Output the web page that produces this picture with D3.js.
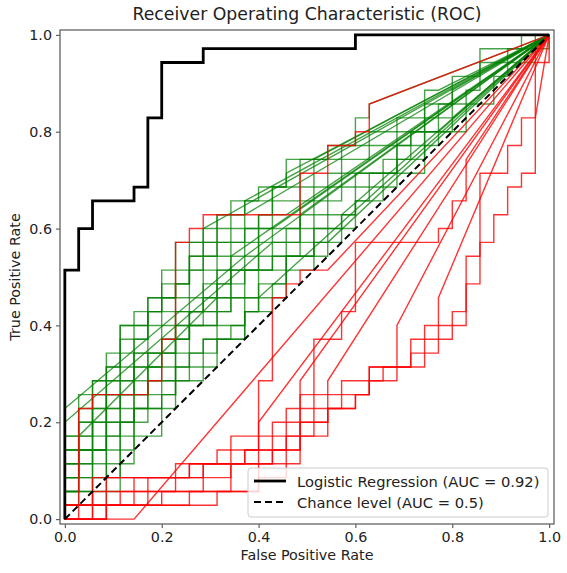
<!DOCTYPE html>
<html>
<head>
<meta charset="utf-8">
<script src="https://cdn.jsdelivr.net/npm/d3@7"></script>
<style>
  body { margin: 0; background: #fff; }
  text { font-family: "DejaVu Sans", sans-serif; fill: #222; }
</style>
</head>
<body>
<svg id="roc" width="567" height="573"></svg>
<script>
// every curve is written in steps of 1/35 (35 positives, 35 negatives)
const N = 35;
const ticks = [0, 0.2, 0.4, 0.6, 0.8, 1.0];

// logistic regression ROC (fpr count, tpr count)
const logReg = [[0,0],[0,18],[1,18],[1,21],[2,21],[2,23],[5,23],[5,24],[6,24],[6,29],[7,29],[7,33],[10,33],[10,34],[21,34],[21,35],[35,35]];
const chance = [[0,0],[35,35]];

// green runs (above chance)
const green01 = [[0,0],[0,8],[13,19],[13,21],[14,21],[14,22],[16,22],[35,35]];
const green02 = [[0,0],[0,7],[15,20],[15,21],[35,35]];
const green03 = [[0,0],[0,2],[1,2],[1,8],[2,8],[2,10],[3,10],[3,12],[4,12],[4,13],[6,13],[6,15],[7,15],[7,17],[9,17],[9,19],[10,19],[10,20],[12,20],[12,22],[13,22],[35,35]];
const green04 = [[0,0],[0,5],[1,5],[1,6],[2,6],[2,7],[3,7],[3,9],[5,9],[5,11],[6,11],[6,12],[8,12],[8,14],[9,14],[9,16],[11,16],[11,17],[12,17],[12,18],[14,18],[14,20],[17,20],[17,22],[35,35]];
const green05 = [[0,0],[0,4],[2,4],[2,5],[3,5],[3,6],[4,6],[4,9],[6,9],[6,10],[7,10],[7,13],[8,13],[8,15],[10,15],[10,16],[11,16],[11,19],[12,19],[35,35]];
const green06 = [[0,0],[0,3],[3,3],[3,4],[4,4],[4,7],[5,7],[5,8],[7,8],[7,9],[8,9],[8,11],[10,11],[10,12],[11,12],[11,14],[13,14],[13,16],[14,16],[14,17],[16,17],[16,19],[18,19],[18,20],[20,20],[20,22],[21,22],[21,23],[23,23],[23,25],[24,25],[24,26],[26,26],[26,28],[28,28],[28,29],[35,35]];
const green07 = [[0,0],[0,1],[2,1],[2,3],[3,3],[3,5],[4,5],[4,6],[5,6],[5,8],[6,8],[6,9],[8,9],[8,11],[9,11],[9,12],[10,12],[10,13],[13,13],[13,15],[14,15],[14,16],[15,16],[15,17],[16,17],[16,19],[18,19],[18,21],[19,21],[19,22],[21,22],[21,24],[22,24],[22,25],[24,25],[24,27],[26,27],[26,29],[27,29],[27,30],[29,30],[29,31],[30,31],[30,33],[32,33],[32,34],[34,34],[34,35],[35,35]];
const green08 = [[0,0],[0,6],[1,6],[1,9],[3,9],[3,11],[4,11],[4,14],[5,14],[5,15],[7,15],[7,16],[8,16],[8,18],[10,18],[10,21],[11,21],[11,22],[13,22],[13,23],[35,35]];
const green09 = [[0,0],[0,2],[1,2],[1,4],[2,4],[2,6],[3,6],[3,8],[4,8],[4,10],[5,10],[5,12],[6,12],[6,14],[7,14],[7,16],[9,16],[9,18],[10,18],[10,19],[11,19],[11,20],[14,20],[14,21],[17,21],[17,23],[18,23],[18,26],[19,26],[19,27],[21,27],[21,29],[22,29],[22,30],[35,35]];
const green10 = [[0,0],[0,4],[1,4],[1,7],[2,7],[2,9],[4,9],[4,12],[5,12],[5,13],[6,13],[6,16],[8,16],[8,17],[9,17],[9,20],[11,20],[11,22],[12,22],[12,23],[14,23],[14,24],[16,24],[16,26],[18,26],[35,35]];
const green11 = [[0,0],[0,1],[1,1],[1,2],[3,2],[3,3],[4,3],[4,5],[5,5],[5,7],[6,7],[6,8],[7,8],[7,10],[9,10],[9,12],[10,12],[10,13],[12,13],[12,14],[13,14],[13,15],[15,15],[15,16],[16,16],[16,18],[18,18],[18,19],[19,19],[19,20],[35,35]];
const green12 = [[0,0],[0,3],[1,3],[1,5],[2,5],[2,8],[3,8],[3,10],[5,10],[5,11],[7,11],[7,12],[8,12],[8,14],[10,14],[10,15],[12,15],[12,17],[13,17],[13,18],[15,18],[15,19],[17,19],[17,20],[19,20],[19,21],[21,21],[21,23],[22,23],[22,24],[24,24],[24,25],[26,25],[26,27],[27,27],[27,28],[29,28],[29,30],[31,30],[31,32],[32,32],[32,33],[34,33],[34,34],[35,34],[35,35]];
const green13 = [[0,0],[0,5],[2,5],[2,7],[3,7],[3,11],[4,11],[4,14],[6,14],[6,16],[7,16],[7,18],[8,18],[8,20],[10,20],[10,21],[35,35]];
const green14 = [[0,0],[0,3],[2,3],[2,4],[3,4],[3,6],[4,6],[4,8],[6,8],[6,11],[7,11],[7,13],[9,13],[9,15],[10,15],[10,17],[12,17],[12,19],[14,19],[14,22],[15,22],[15,23],[17,23],[17,24],[19,24],[19,25],[20,25],[20,26],[22,26],[22,27],[24,27],[24,28],[26,28],[26,30],[28,30],[28,31],[35,35]];
const green15 = [[0,0],[0,1],[3,1],[3,2],[4,2],[4,4],[5,4],[5,6],[7,6],[7,8],[8,8],[8,10],[10,10],[10,11],[11,11],[11,13],[13,13],[13,15],[14,15],[14,16],[35,35]];
const green16 = [[0,0],[0,2],[1,2],[1,6],[11,16],[11,18],[13,18],[13,19],[35,35]];
const green17 = [[0,0],[0,4],[1,4],[1,5],[3,5],[3,7],[5,7],[5,9],[6,9],[6,10],[8,10],[8,13],[9,13],[9,14],[11,14],[11,16],[12,16],[12,18],[15,18],[15,20],[17,20],[17,21],[18,21],[18,23],[20,23],[20,25],[23,25],[23,26],[25,26],[25,28],[27,28],[27,29],[28,29],[28,32],[30,32],[30,34],[33,34],[33,35],[35,35]];
const green18 = [[0,0],[0,2],[2,2],[2,5],[3,5],[3,7],[5,7],[5,10],[6,10],[6,12],[9,12],[9,14],[11,14],[11,15],[12,15],[12,16],[14,16],[14,18],[16,18],[16,19],[18,19],[18,21],[20,21],[20,22],[35,35]];
const green19 = [[0,0],[0,6],[2,6],[2,8],[3,8],[3,9],[5,9],[5,12],[7,12],[7,14],[8,14],[8,15],[10,15],[10,18],[12,18],[12,20],[13,20],[13,21],[15,21],[15,24],[16,24],[16,25],[35,35]];
const green20 = [[0,0],[0,3],[1,3],[1,5],[3,5],[3,8],[4,8],[4,9],[6,9],[6,11],[8,11],[8,13],[9,13],[9,15],[11,15],[11,16],[13,16],[13,18],[14,18],[14,19],[16,19],[16,21],[17,21],[17,22],[19,22],[19,24],[21,24],[21,25],[24,25],[24,27],[25,27],[25,28],[27,28],[35,35]];
const green21 = [[0,0],[0,5],[1,5],[1,7],[2,7],[2,10],[4,10],[4,11],[5,11],[5,14],[6,14],[6,15],[8,15],[8,17],[9,17],[9,19],[11,19],[11,21],[13,21],[13,23],[15,23],[15,24],[17,24],[17,26],[20,26],[20,27],[22,27],[22,28],[24,28],[24,29],[26,29],[26,31],[27,31],[35,35]];

// red runs (mostly below chance)
const red01 = [[0,0],[1,0],[1,8],[2,8],[2,9],[6,9],[6,10],[7,10],[7,13],[8,13],[8,20],[9,20],[9,21],[10,21],[10,22],[17,22],[17,25],[19,25],[19,27],[21,27],[21,28],[22,28],[22,30],[35,35]];
const red02 = [[0,0],[0,1],[5,1],[5,3],[8,3],[8,4],[11,4],[11,5],[14,5],[14,10],[15,10],[15,16],[16,16],[16,17],[17,17],[17,18],[19,18],[35,35]];
const red03 = [[0,0],[3,0],[3,1],[7,1],[7,2],[12,2],[12,4],[15,4],[15,5],[17,5],[17,6],[18,6],[18,13],[20,13],[20,15],[21,15],[21,20],[27,20],[27,21],[28,21],[28,23],[29,23],[29,26],[35,35]];
const red04 = [[0,0],[5,0],[35,35]];
const red05 = [[0,0],[2,0],[2,3],[10,3],[10,4],[12,4],[12,6],[14,6],[14,7],[35,35]];
const red06 = [[0,0],[0,1],[2,1],[2,2],[6,2],[6,3],[9,3],[9,4],[13,4],[13,5],[16,5],[16,8],[17,8],[17,10],[35,35]];
const red07 = [[0,0],[3,0],[3,1],[11,1],[11,2],[14,2],[14,4],[17,4],[17,7],[19,7],[19,10],[35,35]];
const red08 = [[0,0],[3,0],[3,1],[9,1],[9,2],[14,2],[14,3],[16,3],[16,6],[19,6],[19,8],[21,8],[21,9],[22,9],[22,11],[24,11],[24,14],[35,35]];
const red09 = [[0,0],[0,1],[4,1],[4,2],[8,2],[8,3],[12,3],[12,4],[15,4],[15,5],[17,5],[17,7],[19,7],[19,8],[21,8],[21,9],[22,9],[22,11],[25,11],[25,13],[26,13],[26,14],[28,14],[28,15],[29,15],[29,19],[30,19],[30,20],[31,20],[31,22],[32,22],[32,24],[33,24],[33,25],[34,25],[34,29],[35,35]];
const red10 = [[0,0],[2,0],[2,1],[6,1],[6,2],[10,2],[10,4],[14,4],[14,6],[17,6],[17,9],[20,9],[20,10],[23,10],[23,11],[25,11],[25,12],[27,12],[27,16],[35,35]];
const red11 = [[0,0],[0,1],[3,1],[3,3],[9,3],[9,4],[13,4],[13,5],[15,5],[15,7],[17,7],[17,8],[20,8],[20,9],[22,9],[22,10],[24,10],[24,11],[26,11],[26,13],[28,13],[28,14],[29,14],[29,17],[30,17],[30,25],[32,25],[32,27],[33,27],[33,29],[34,29],[34,33],[35,33],[35,35]];

const greenRuns = [green01, green02, green03, green04, green05, green06, green07, green08, green09, green10, green11,
                   green12, green13, green14, green15, green16, green17, green18, green19, green20, green21];
const redRuns = [red01, red02, red03, red04, red05, red06, red07, red08, red09, red10, red11];

const svg = d3.select("#roc");
const margin = {top: 30, right: 13, bottom: 49, left: 60};
const width = +svg.attr("width") - margin.left - margin.right,
      height = +svg.attr("height") - margin.top - margin.bottom;

const x = d3.scaleLinear().domain([-0.01, 1.01]).range([0, width]);
const y = d3.scaleLinear().domain([-0.01, 1.01]).range([height, 0]);

const g = svg.append("g").attr("transform", "translate(" + margin.left + "," + margin.top + ")");

const line = d3.line()
  .x(d => x(d[0] / N))
  .y(d => y(d[1] / N));

g.selectAll(".green").data(greenRuns).enter().append("path")
  .attr("class", "green")
  .attr("d", line)
  .attr("fill", "none")
  .attr("stroke", "#008000")
  .attr("stroke-opacity", 0.72)
  .attr("stroke-width", 1.4);

g.selectAll(".red").data(redRuns).enter().append("path")
  .attr("class", "red")
  .attr("d", line)
  .attr("fill", "none")
  .attr("stroke", "#ff0000")
  .attr("stroke-opacity", 0.8)
  .attr("stroke-width", 1.4);

g.append("path").datum(logReg)
  .attr("d", line)
  .attr("fill", "none")
  .attr("stroke", "#000")
  .attr("stroke-width", 2.8);

g.append("path").datum(chance)
  .attr("d", line)
  .attr("fill", "none")
  .attr("stroke", "#000")
  .attr("stroke-width", 2)
  .attr("stroke-dasharray", "7,4");

// axes
const xAxis = g.append("g")
  .attr("transform", "translate(0," + height + ")")
  .call(d3.axisBottom(x).tickValues(ticks).tickFormat(d3.format(".1f")).tickSize(4).tickPadding(4));
const yAxis = g.append("g")
  .call(d3.axisLeft(y).tickValues(ticks).tickFormat(d3.format(".1f")).tickSize(4).tickPadding(4));
[xAxis, yAxis].forEach(a => {
  a.select(".domain").remove();
  a.selectAll("text").style("font-size", "14.3px").style("fill", "#222").style("font-family", "DejaVu Sans, sans-serif");
  a.selectAll("line").attr("stroke", "#444");
});

g.append("rect")
  .attr("width", width).attr("height", height)
  .attr("fill", "none").attr("stroke", "#555").attr("stroke-width", 1.2);

// legend
const legend = g.append("g").attr("transform", "translate(" + (248 - margin.left) + "," + (468 - margin.top) + ")");
legend.append("rect")
  .attr("width", 300).attr("height", 49).attr("rx", 3)
  .attr("fill", "#fff").attr("fill-opacity", 0.8)
  .attr("stroke", "#ccc");
const legendItems = [
  {label: "Logistic Regression (AUC = 0.92)", dash: null, w: 2.8},
  {label: "Chance level (AUC = 0.5)", dash: "7,4", w: 2}
];
legendItems.forEach((d, i) => {
  const row = legend.append("g").attr("transform", "translate(0," + (13 + i * 21) + ")");
  row.append("line").attr("x1", 6).attr("x2", 38)
    .attr("stroke", "#000").attr("stroke-width", d.w)
    .attr("stroke-dasharray", d.dash);
  row.append("text").attr("x", 49).attr("y", 5.5).style("font-size", "14.7px").text(d.label);
});

// titles
svg.append("text")
  .attr("x", margin.left + width / 2).attr("y", 20)
  .attr("text-anchor", "middle").style("font-size", "17.3px")
  .text("Receiver Operating Characteristic (ROC)");
svg.append("text")
  .attr("x", margin.left + width / 2).attr("y", 560)
  .attr("text-anchor", "middle").style("font-size", "14.3px")
  .text("False Positive Rate");
svg.append("text")
  .attr("transform", "translate(20," + (margin.top + height / 2) + ") rotate(-90)")
  .attr("text-anchor", "middle").style("font-size", "14.3px")
  .text("True Positive Rate");
</script>
</body>
</html>
